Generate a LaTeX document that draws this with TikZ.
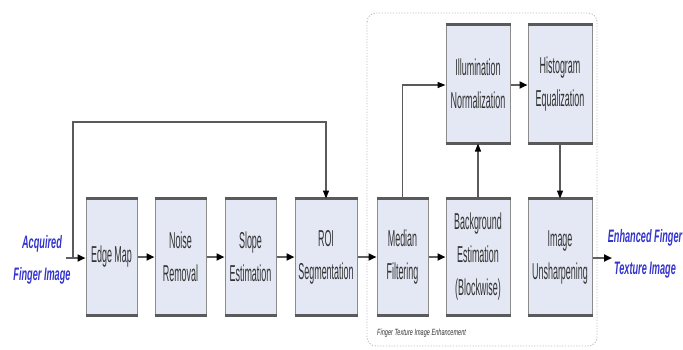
\documentclass[tikz,border=0pt]{standalone}
\usepackage{fontspec}
\setmainfont{Liberation Sans}
\newfontfamily\boxfont{Liberation Sans}[FakeStretch=0.39]
\newfontfamily\bluefont{Liberation Sans Bold Italic}[FakeStretch=0.51]
\newfontfamily\smallfont{Liberation Sans Italic}[FakeStretch=0.62]
\usetikzlibrary{arrows.meta}
\definecolor{boxfill}{HTML}{E3E8F4}
\definecolor{boxedge}{HTML}{8C8C8C}
\definecolor{boxdark}{HTML}{5A5A5A}
\definecolor{txt}{HTML}{333333}
\definecolor{iolabel}{HTML}{3434CC}
\definecolor{flowline}{HTML}{606060}
\tikzset{
  stage/.style={draw=boxedge, fill=boxfill, line width=1pt, inner sep=0pt,
    minimum height=116pt, align=center, text=txt,
    font=\boxfont\fontsize{23}{33}\selectfont},
  iotext/.style={align=center, text=iolabel, inner sep=0pt,
    font=\bluefont\fontsize{18}{32}\selectfont},
  mainflow/.style={draw=flowline, line width=2.6pt,
    -{Triangle[length=8pt,width=7pt,color=black]}},
  sideflow/.style={draw=boxdark, line width=1.4pt,
    -{Triangle[length=8pt,width=6pt,color=black]}},
  edgebar/.style={draw=boxdark, line width=2.6pt},
  groupframe/.style={draw=gray!50, line width=0.9pt, dash pattern=on 1.2pt off 1.6pt, rounded corners=9pt}
}
\begin{document}
\begin{tikzpicture}[x=1pt,y=-1pt]
\path[use as bounding box] (0,0) rectangle (683,349);
% group frame
\draw[groupframe] (367,13) rectangle (597,346);
\node[anchor=west, inner sep=0pt, text=txt, font=\smallfont\fontsize{9}{10}\selectfont] (grouplabel) at (377,333) {Finger Texture Image Enhancement};
% stages
\node[stage, minimum width=51pt] (edge) at (111.5,257) {Edge Map};
\node[stage, minimum width=51pt] (noise) at (180.5,257) {Noise\\Removal};
\node[stage, minimum width=51pt] (slope) at (250.5,257) {Slope\\Estimation};
\node[stage, minimum width=62pt] (roi) at (326,257) {ROI\\Segmentation};
\node[stage, minimum width=51pt] (median) at (402.5,257) {Median\\Filtering};
\node[stage, minimum width=64pt] (back) at (478,257) {Background\\Estimation\\(Blockwise)};
\node[stage, minimum width=64pt] (unsharp) at (560,257) {Image\\Unsharpening};
\node[stage, minimum width=64pt, minimum height=118pt] (illum) at (478,84) {Illumination\\Normalization};
\node[stage, minimum width=64pt, minimum height=118pt] (hist) at (560,84) {Histogram\\Equalization};
\foreach \n in {edge,noise,slope,roi,median,back,unsharp,illum,hist}{
  \draw[edgebar] (\n.north west) -- (\n.north east);
  \draw[edgebar] (\n.south west) -- (\n.south east);
}
% input / output labels
\node[iotext] (input) at (42,260) {Acquired\\Finger Image};
\node[iotext] (output) at (645,254) {Enhanced Finger\\Texture Image};
\coordinate (instart) at (66,258);
\coordinate (split) at (73,258);
\coordinate (splittop) at (73,122);
\coordinate (outend) at (612,258);
% main flow
\draw[mainflow] (instart) -- (edge.west |- instart);
\draw[mainflow] (edge) -- (noise);
\draw[mainflow] (noise) -- (slope);
\draw[mainflow] (slope) -- (roi);
\draw[mainflow] (roi) -- (median);
\draw[mainflow] (median) -- (back);
\draw[mainflow] (unsharp.east |- outend) -- (outend);
% side flows
\draw[sideflow] (split) -- (splittop) -| (roi.north);
\draw[sideflow] (median.north) |- ([yshift=-1pt]illum.west);
\draw[mainflow] ([yshift=-1pt]illum.east) -- ([yshift=-1pt]hist.west);
\draw[sideflow] (back.north) -- (illum.south);
\draw[sideflow] (hist.south) -- (unsharp.north);
\end{tikzpicture}
\end{document}
